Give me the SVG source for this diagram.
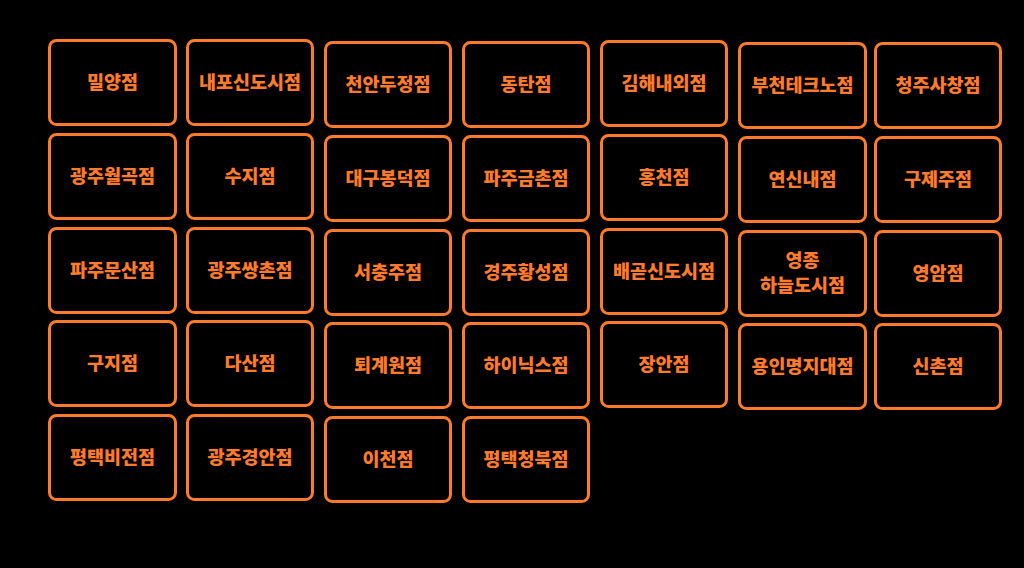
<svg xmlns="http://www.w3.org/2000/svg" width="1024" height="568" viewBox="0 0 1024 568">
<style>
rect{fill:#000;stroke:#FF7B2C;stroke-width:3}
text{fill:#FF7B2C;font-family:"Noto Sans CJK KR",sans-serif;font-weight:900;font-size:18.5px;text-anchor:middle;dominant-baseline:central}
</style>
<rect x="0" y="0" width="1024" height="568" style="stroke:none"/>
<g id="c1">
<g id="n11"><rect x="49.5" y="40.5" width="126" height="84" rx="7"/><text x="112.5" y="80.5">밀양점</text></g>
<g id="n12"><rect x="49.5" y="134.5" width="126" height="84" rx="7"/><text x="112.5" y="174.5">광주월곡점</text></g>
<g id="n13"><rect x="49.5" y="228.5" width="126" height="84" rx="7"/><text x="112.5" y="268.5">파주문산점</text></g>
<g id="n14"><rect x="49.5" y="321.5" width="126" height="84" rx="7"/><text x="112.5" y="361.5">구지점</text></g>
<g id="n15"><rect x="49.5" y="415.5" width="126" height="84" rx="7"/><text x="112.5" y="455.5">평택비전점</text></g>
</g>
<g id="c2">
<g id="n21"><rect x="187.5" y="40.5" width="125" height="84" rx="7"/><text x="250" y="80.5">내포신도시점</text></g>
<g id="n22"><rect x="187.5" y="134.5" width="125" height="84" rx="7"/><text x="250" y="174.5">수지점</text></g>
<g id="n23"><rect x="187.5" y="228.5" width="125" height="84" rx="7"/><text x="250" y="268.5">광주쌍촌점</text></g>
<g id="n24"><rect x="187.5" y="321.5" width="125" height="84" rx="7"/><text x="250" y="361.5">다산점</text></g>
<g id="n25"><rect x="187.5" y="415.5" width="125" height="84" rx="7"/><text x="250" y="455.5">광주경안점</text></g>
</g>
<g id="c3">
<g id="n31"><rect x="325.5" y="42.5" width="125" height="84" rx="7"/><text x="388" y="82.5">천안두정점</text></g>
<g id="n32"><rect x="325.5" y="136.5" width="125" height="84" rx="7"/><text x="388" y="176.5">대구봉덕점</text></g>
<g id="n33"><rect x="325.5" y="230.5" width="125" height="84" rx="7"/><text x="388" y="270.5">서충주점</text></g>
<g id="n34"><rect x="325.5" y="323.5" width="125" height="84" rx="7"/><text x="388" y="363.5">퇴계원점</text></g>
<g id="n35"><rect x="325.5" y="417.5" width="125" height="84" rx="7"/><text x="388" y="457.5">이천점</text></g>
</g>
<g id="c4">
<g id="n41"><rect x="463.5" y="42.5" width="125" height="84" rx="7"/><text x="526" y="82.5">동탄점</text></g>
<g id="n42"><rect x="463.5" y="136.5" width="125" height="84" rx="7"/><text x="526" y="176.5">파주금촌점</text></g>
<g id="n43"><rect x="463.5" y="230.5" width="125" height="84" rx="7"/><text x="526" y="270.5">경주황성점</text></g>
<g id="n44"><rect x="463.5" y="323.5" width="125" height="84" rx="7"/><text x="526" y="363.5">하이닉스점</text></g>
<g id="n45"><rect x="463.5" y="417.5" width="125" height="84" rx="7"/><text x="526" y="457.5">평택청북점</text></g>
</g>
<g id="c5">
<g id="n51"><rect x="601.5" y="41.5" width="125" height="84" rx="7"/><text x="664" y="81.5">김해내외점</text></g>
<g id="n52"><rect x="601.5" y="135.5" width="125" height="84" rx="7"/><text x="664" y="175.5">홍천점</text></g>
<g id="n53"><rect x="601.5" y="229.5" width="125" height="84" rx="7"/><text x="664" y="269.5">배곧신도시점</text></g>
<g id="n54"><rect x="601.5" y="322.5" width="125" height="84" rx="7"/><text x="664" y="362.5">장안점</text></g>
</g>
<g id="c6">
<g id="n61"><rect x="739.5" y="43.5" width="126" height="84" rx="7"/><text x="802.5" y="83.5">부천테크노점</text></g>
<g id="n62"><rect x="739.5" y="137.5" width="126" height="84" rx="7"/><text x="802.5" y="177.5">연신내점</text></g>
<g id="n63"><rect x="739.5" y="231.5" width="126" height="84" rx="7"/><text x="802.5" y="259">영종</text><text x="802.5" y="284">하늘도시점</text></g>
<g id="n64"><rect x="739.5" y="324.5" width="126" height="84" rx="7"/><text x="802.5" y="364.5">용인명지대점</text></g>
</g>
<g id="c7">
<g id="n71"><rect x="875.5" y="43.5" width="125" height="84" rx="7"/><text x="938" y="83.5">청주사창점</text></g>
<g id="n72"><rect x="875.5" y="137.5" width="125" height="84" rx="7"/><text x="938" y="177.5">구제주점</text></g>
<g id="n73"><rect x="875.5" y="231.5" width="125" height="84" rx="7"/><text x="938" y="271.5">영암점</text></g>
<g id="n74"><rect x="875.5" y="324.5" width="125" height="84" rx="7"/><text x="938" y="364.5">신촌점</text></g>
</g>
<g id="connectors"/>
</svg>
